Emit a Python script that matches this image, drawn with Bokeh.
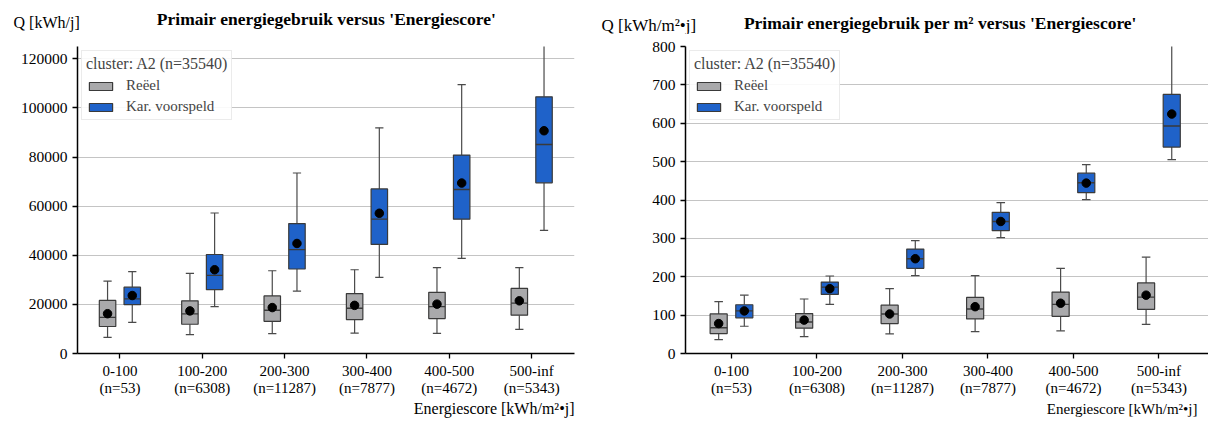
from bokeh.plotting import figure
from bokeh.models import (ColumnDataSource, FixedTicker, Legend, LegendItem,
                          NumeralTickFormatter, Range1d)
from bokeh.core.properties import value
from bokeh.transform import dodge
from bokeh.layouts import row, column
from bokeh.embed import file_html
from bokeh.resources import INLINE

FONT = "Liberation Serif"

categories = ["0-100", "100-200", "200-300", "300-400", "400-500", "500-inf"]
counts = [53, 6308, 11287, 7877, 4672, 5343]
cluster_title = "cluster: A2 (n=35540)"

# Left chart: Q [kWh/j]
abs_reel_low = [6600, 7700, 8100, 8300, 8200, 9800]
abs_reel_q1 = [11000, 11900, 13100, 13800, 14200, 15600]
abs_reel_med = [14700, 16150, 17600, 18400, 19100, 20500]
abs_reel_q3 = [21600, 21450, 23450, 24400, 24900, 26500]
abs_reel_high = [29500, 32600, 33700, 34100, 35000, 35000]
abs_reel_mean = [16200, 17350, 18700, 19600, 20100, 21450]

abs_kar_low = [12700, 19100, 25400, 31000, 38700, 50100]
abs_kar_q1 = [19900, 26000, 34400, 44400, 54700, 69500]
abs_kar_med = [22250, 31800, 42300, 54700, 66800, 85100]
abs_kar_q3 = [27000, 40300, 52900, 67000, 80800, 104500]
abs_kar_high = [33300, 57200, 73500, 91900, 109500, 135000]
abs_kar_mean = [23600, 34100, 44800, 57100, 69400, 90700]

# Right chart: Q [kWh/m2.j]
m2_reel_low = [36, 44, 51, 57, 59, 76]
m2_reel_q1 = [52, 66, 78, 90, 97, 115]
m2_reel_med = [67, 82, 103, 116, 128, 147]
m2_reel_q3 = [103, 104, 126, 146, 160, 184]
m2_reel_high = [135, 142, 169, 203, 222, 251]
m2_reel_mean = [78, 87, 103, 122, 131, 152]

m2_kar_low = [71, 128, 203, 302, 401, 505]
m2_kar_q1 = [93, 154, 222, 320, 419, 538]
m2_kar_med = [111, 173, 247, 344, 445, 593]
m2_kar_q3 = [127, 186, 272, 368, 470, 675]
m2_kar_high = [152, 202, 294, 393, 492, 850]
m2_kar_mean = [111, 169, 247, 344, 444, 624]

titles = ["Primair energiegebruik versus 'Energiescore'",
          "Primair energiegebruik per m² versus 'Energiescore'"]
q_labels = ["Q [kWh/j]", "Q [kWh/m²•j]"]
x_label = "Energiescore [kWh/m²•j]"

GREY = "#a9a9ab"
BLUE = "#1f62c9"
EDGE = "#3a3a3a"
WHISK = "#4a4a4a"

W = 1208
HEAD_H = 34
MAIN_H = 365
FOOT_H = 421 - HEAD_H - MAIN_H


def make_source(low, q1, med, q3, high, mean):
    return ColumnDataSource(dict(x=list(range(len(categories))), low=low, q1=q1,
                                 med=med, q3=q3, high=high, mean=mean))


def blank(width, height):
    p = figure(width=width, height=height, output_backend="svg", toolbar_location=None,
               title=None, x_range=Range1d(0, width), y_range=Range1d(height, 0),
               min_border=0, min_border_left=0, min_border_right=0,
               min_border_top=0, min_border_bottom=0,
               outline_line_color=None, x_axis_type=None, y_axis_type=None)
    p.grid.visible = False
    return p


def draw_boxes(p, src, off, color):
    xr = p.x_range
    xc = dodge("x", off, range=xr)
    p.segment(x0=xc, y0="low", x1=xc, y1="q1", source=src, line_color=WHISK, line_width=1.2)
    p.segment(x0=xc, y0="q3", x1=xc, y1="high", source=src, line_color=WHISK, line_width=1.2)
    p.segment(x0=dodge("x", off - 0.05, range=xr), y0="low",
              x1=dodge("x", off + 0.05, range=xr), y1="low", source=src,
              line_color=WHISK, line_width=1.2)
    p.segment(x0=dodge("x", off - 0.05, range=xr), y0="high",
              x1=dodge("x", off + 0.05, range=xr), y1="high", source=src,
              line_color=WHISK, line_width=1.2)
    r = p.vbar(x=xc, width=0.2, bottom="q1", top="q3", source=src,
               fill_color=color, line_color=EDGE, line_width=1.2)
    p.segment(x0=dodge("x", off - 0.1, range=xr), y0="med",
              x1=dodge("x", off + 0.1, range=xr), y1="med", source=src,
              line_color=EDGE, line_width=1.4)
    p.scatter(x=xc, y="mean", source=src, size=8.5, fill_color="black", line_color="black")
    return r


def make_main(width, bl, br, bt, bb, x0, x1, ymax, yticks, reel, kar):
    p = figure(width=width, height=MAIN_H, output_backend="svg", toolbar_location=None,
               title=None, x_range=Range1d(x0, x1), y_range=Range1d(0, ymax),
               min_border_left=bl, min_border_right=br, min_border_top=bt,
               min_border_bottom=bb, outline_line_color=None, background_fill_color="white")
    p.xgrid.visible = False
    p.ygrid.grid_line_color = "#c4c4c4"
    p.ygrid.grid_line_width = 1.2
    p.ygrid.ticker = FixedTicker(ticks=yticks)

    p.yaxis.ticker = FixedTicker(ticks=yticks)
    p.yaxis.formatter = NumeralTickFormatter(format="0")
    p.xaxis.ticker = FixedTicker(ticks=list(range(len(categories))))
    p.xaxis.major_label_overrides = {i: f"{c}\n(n={n})" for i, (c, n) in
                                     enumerate(zip(categories, counts))}
    for ax in (p.xaxis, p.yaxis):
        ax.axis_line_width = 1.5
        ax.axis_line_color = "black"
        ax.major_tick_line_color = "black"
        ax.major_tick_line_width = 1.3
        ax.major_tick_out = 5
        ax.major_tick_in = 0
        ax.minor_tick_line_color = None
        ax.major_label_text_font = FONT
        ax.major_label_text_font_size = "15.5px"
        ax.major_label_text_color = "black"
    xa = p.xaxis[0]
    xa.major_label_text_font_size = "15px"
    xa.major_label_text_line_height = 1.1
    xa.major_label_standoff = 4
    p.yaxis.major_label_standoff = 5

    rr = draw_boxes(p, reel, -0.15, GREY)
    rk = draw_boxes(p, kar, 0.15, BLUE)

    legend = Legend(items=[LegendItem(label="Reëel", renderers=[rr]),
                           LegendItem(label="Kar. voorspeld", renderers=[rk])],
                    location="top_left", title=cluster_title)
    legend.title_text_font = FONT
    legend.title_text_font_size = "16px"
    legend.title_text_font_style = "normal"
    legend.title_standoff = 4
    legend.label_text_font = FONT
    legend.label_text_font_size = "15px"
    legend.label_height = 16
    legend.glyph_height = 10
    legend.glyph_width = 29
    legend.label_standoff = 11
    legend.spacing = 4
    legend.padding = 4
    legend.margin = 4
    legend.border_line_color = "#d8d8d8"
    legend.border_line_width = 1
    legend.background_fill_alpha = 0.9
    p.add_layout(legend)
    return p


left = make_main(600, 77, 26, 9, MAIN_H - 9 - 314, -0.515, 5.52, 125000,
                 list(range(0, 120001, 20000)),
                 make_source(abs_reel_low, abs_reel_q1, abs_reel_med, abs_reel_q3,
                             abs_reel_high, abs_reel_mean),
                 make_source(abs_kar_low, abs_kar_q1, abs_kar_med, abs_kar_q3,
                             abs_kar_high, abs_kar_mean))

right = make_main(608, 85, 0, 12, MAIN_H - 12 - 308, -0.538, 5.58, 800,
                  list(range(0, 801, 100)),
                  make_source(m2_reel_low, m2_reel_q1, m2_reel_med, m2_reel_q3,
                              m2_reel_high, m2_reel_mean),
                  make_source(m2_kar_low, m2_kar_q1, m2_kar_med, m2_kar_q3,
                              m2_kar_high, m2_kar_mean))

head = blank(W, HEAD_H)
head.text(x=[326, 940], y=[18, 22], text=titles, text_font=value(FONT),
          text_font_size="17.5px", text_font_style="bold", text_align="center",
          text_baseline="middle", text_color="black")
head.text(x=[13], y=[22], text=[q_labels[0]], text_font=value(FONT),
          text_font_size="16px", text_align="left", text_baseline="middle",
          text_color="black")
head.text(x=[601], y=[25], text=[q_labels[1]], text_font=value(FONT),
          text_font_size="17px", text_align="left", text_baseline="middle",
          text_color="black")

foot = blank(W, FOOT_H)
foot.text(x=[574], y=[9], text=[x_label], text_font=value(FONT),
          text_font_size="16px", text_align="right", text_baseline="middle",
          text_color="black")
foot.text(x=[1197], y=[9], text=[x_label], text_font=value(FONT),
          text_font_size="15px", text_align="right", text_baseline="middle",
          text_color="black")

layout = column(head, row(left, right, spacing=0), foot, spacing=0)
open("out.html", "w").write(file_html(layout, INLINE))
